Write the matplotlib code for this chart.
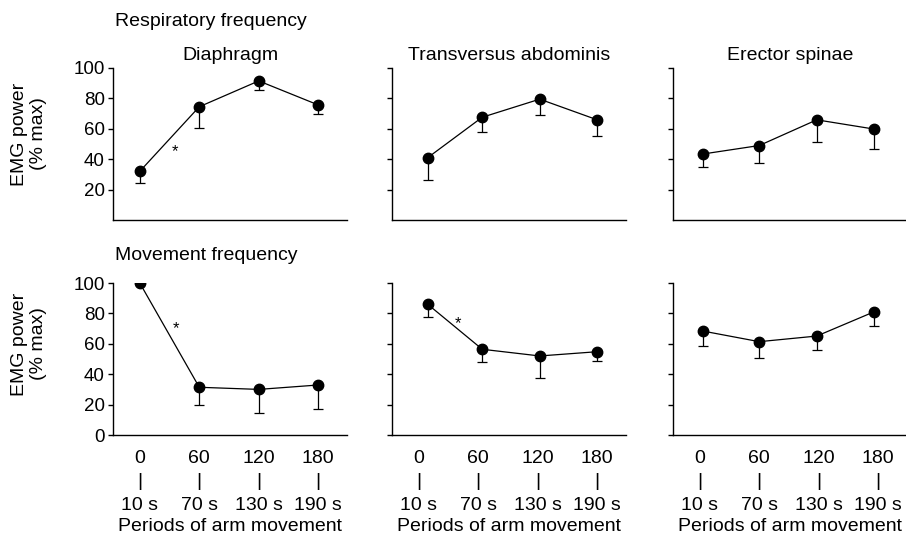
import matplotlib
matplotlib.use("Agg")
import matplotlib.pyplot as plt
import numpy as np

plt.rcParams['font.family'] = ['Liberation Sans', 'DejaVu Sans']

muscles = ["Diaphragm", "Transversus abdominis", "Erector spinae"]
tick_pos = [0, 60, 120, 180]
tick_labels = ["0\n|\n10 s", "60\n|\n70 s", "120\n|\n130 s", "180\n|\n190 s"]

# x positions of points per panel
x_pts = {
    "Diaphragm": [0, 60, 120, 180],
    "Transversus abdominis": [9, 64, 122, 180],
    "Erector spinae": [3, 60, 118, 176],
}

# Respiratory frequency (top row): means and lower error bar ends
resp_mean = {
    "Diaphragm": [32, 74.5, 91.5, 75.7],
    "Transversus abdominis": [41, 67.6, 79.5, 65.9],
    "Erector spinae": [43.4, 49, 65.9, 59.8],
}
resp_low = {
    "Diaphragm": [24.6, 60.7, 85.6, 69.5],
    "Transversus abdominis": [26, 57.8, 69.2, 55],
    "Erector spinae": [34.9, 37.5, 51, 46.7],
}
# Movement frequency (bottom row)
move_mean = {
    "Diaphragm": [100, 31.4, 30, 32.9],
    "Transversus abdominis": [86, 56.4, 52, 54.8],
    "Erector spinae": [68.4, 61.4, 65.1, 81.1],
}
move_low = {
    "Diaphragm": [100, 19.7, 14.3, 17.1],
    "Transversus abdominis": [77.8, 48.2, 37.3, 48.7],
    "Erector spinae": [58.8, 50.4, 55.9, 71.9],
}
# significance asterisks (panel, row, x, y)
stars = [("Diaphragm", 0, 36, 45), ("Diaphragm", 1, 37, 70), ("Transversus abdominis", 1, 40, 73.5)]

fig = plt.figure(figsize=(9.06, 5.36), dpi=100)
W, H = 906, 536
lefts = [113, 392, 673]
width = 234
rows = [(68, 220), (283, 435)]

FS = 14
for r, (ytop, ybot) in enumerate(rows):
    for c, m in enumerate(muscles):
        ax = fig.add_axes([lefts[c] / W, 1 - ybot / H, width / W, (ybot - ytop) / H])
        mean = (resp_mean if r == 0 else move_mean)[m]
        low = (resp_low if r == 0 else move_low)[m]
        xs = x_pts[m]
        lower = np.array(mean) - np.array(low)
        ax.errorbar(xs, mean, yerr=[lower, np.zeros_like(lower)], fmt='none',
                    ecolor='black', elinewidth=0.9, capsize=3.5, capthick=0.9, zorder=2)
        ax.plot(xs, mean, '-', color='black', lw=0.9, zorder=3)
        ax.plot(xs, mean, 'o', color='black', ms=7.5, zorder=4)
        ax.set_xlim(-27, 209)
        ax.set_ylim(0, 100)
        for s in ['top', 'right']:
            ax.spines[s].set_visible(False)
        ax.spines['left'].set_linewidth(1.0)
        ax.spines['bottom'].set_linewidth(1.0)
        if r == 0:
            ax.set_yticks([20, 40, 60, 80, 100])
        else:
            ax.set_yticks([0, 20, 40, 60, 80, 100])
        ax.tick_params(axis='y', direction='out', length=3.5, width=1.0, labelsize=13.5, pad=2.5)
        if c != 0:
            ax.tick_params(axis='y', labelleft=False)
        if r == 1:
            ax.set_xticks(tick_pos)
            ax.set_xticklabels(tick_labels, fontsize=FS, linespacing=1.52)
            ax.tick_params(axis='x', length=0, pad=10.5)
            ax.set_xlabel("Periods of arm movement", fontsize=FS, labelpad=3)
        else:
            ax.set_xticks([])
            ax.set_title(m, fontsize=FS, pad=6)
        for (pm, pr, sx, sy) in stars:
            if pm == m and pr == r:
                ax.text(sx, sy, "*", fontsize=12, ha='center', va='center')

fig.text(115 / W, 1 - 22 / H, "Respiratory frequency", fontsize=FS, ha='left', va='center')
fig.text(115 / W, 1 - 255 / H, "Movement frequency", fontsize=FS, ha='left', va='center')
fig.text(29 / W, 1 - 134 / H, "EMG power\n(% max)", fontsize=FS, rotation=90,
         ha='center', va='center', linespacing=1.1)
fig.text(29 / W, 1 - 344 / H, "EMG power\n(% max)", fontsize=FS, rotation=90,
         ha='center', va='center', linespacing=1.1)

fig.savefig("out.png", dpi=100)
